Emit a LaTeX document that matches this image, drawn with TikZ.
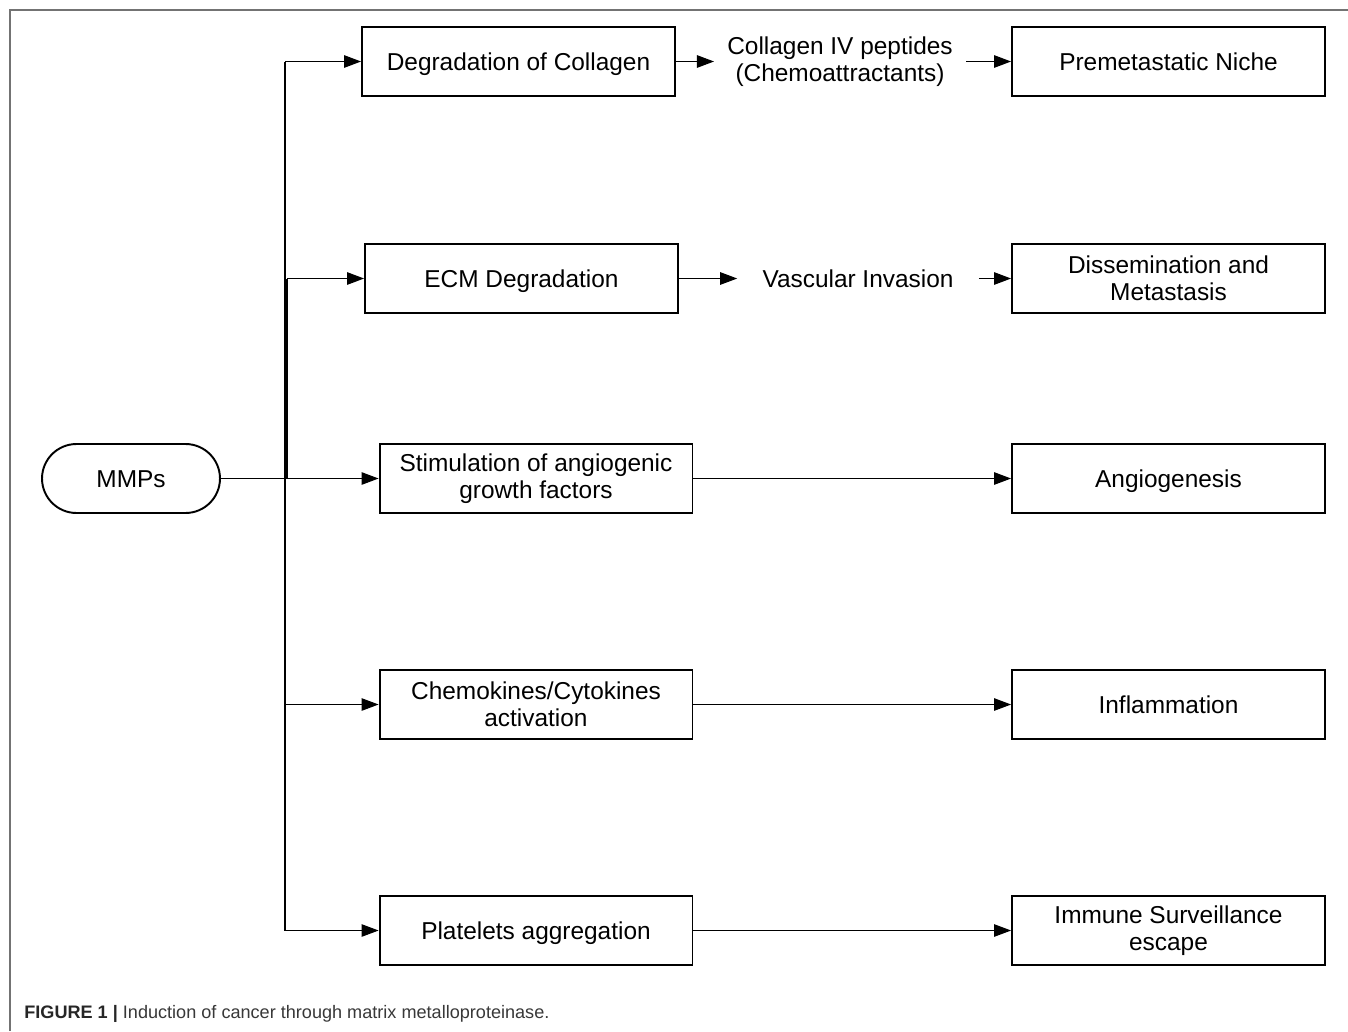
\documentclass[tikz,border=0pt]{standalone}
\usepackage{fontspec}
\setmainfont{Liberation Sans}
\usetikzlibrary{arrows.meta}
\begin{document}
\begin{tikzpicture}[x=0.02cm,y=-0.02cm,
  every node/.style={font=\fontsize{13.9}{15.6}\selectfont, align=center},
  box/.style={draw, line width=1.1pt, minimum width=6.26cm, minimum height=1.38cm, inner sep=0pt},
  pill/.style={draw, line width=1.1pt, minimum width=3.56cm, minimum height=1.38cm, rounded corners=0.69cm, inner sep=0pt},
  oneline/.style={text height=12.45pt, text depth=2.5pt},
  conn/.style={line width=0.6pt},
  arr/.style={line width=0.6pt, -{Triangle[length=0.34cm,width=0.25cm]}},
  frame/.style={draw=black!55, line width=0.8pt}]
\useasboundingbox (0,0) rectangle (1348,1031);
\draw[frame] (10,1031) -- (10,10) -- (1348,10);
% nodes
\node[pill, oneline] (m) at (131,478.5) {MMPs};
\node[box, oneline] (b1) at (518.5,61.5) {Degradation of Collagen};
\node[box, oneline] (b2) at (521.5,278.5) {ECM Degradation};
\node[box] (b3) at (536,478.5) {Stimulation of angiogenic\\growth factors};
\node[box] (b4) at (536,704.5) {Chemokines/Cytokines\\activation};
\node[box, oneline] (b5) at (536,930.5) {Platelets aggregation};
\node[box, oneline] (r1) at (1168.5,61.5) {Premetastatic Niche};
\node[box] (r2) at (1168.5,278.5) {Dissemination and\\Metastasis};
\node[box, oneline] (r3) at (1168.5,478.5) {Angiogenesis};
\node[box, oneline] (r4) at (1168.5,704.5) {Inflammation};
\node[box] (r5) at (1168.5,930.5) {Immune Surveillance\\escape};
\node[inner xsep=0.26cm, inner ysep=2pt] (c1) at (840,61.5) {Collagen IV peptides\\(Chemoattractants)};
\node[oneline, inner xsep=0.5cm, inner ysep=2pt] (v) at (858,278.5) {Vascular Invasion};
% trunk
\coordinate (j) at (285,478.5);
\coordinate (jt) at (285,61.5);
\coordinate (jb) at (285,930.5);
\coordinate (j2) at (287,278.5);
\coordinate (j3) at (287,478.5);
\draw[conn] (m.east) -- (j);
\draw[conn] (jt) -- (jb);
\draw[conn] (j2) -- (j3);
\draw[arr] (jt) -- (b1.west);
\draw[arr] (j2) -- (b2.west);
\draw[arr] (j) -- (b3.west);
\draw[arr] (b4.west -| j) -- (b4.west);
\draw[arr] (jb) -- (b5.west);
% right side
\draw[arr] (b1.east) -- (c1.west);
\draw[arr] (c1.east) -- (r1.west);
\draw[arr] (b2.east) -- (v.west);
\draw[arr] (v.east) -- (r2.west);
\draw[arr] (b3.east) -- (r3.west);
\draw[arr] (b4.east) -- (r4.west);
\draw[arr] (b5.east) -- (r5.west);
% caption
\node[anchor=base west, inner sep=0pt, font=\fontsize{10.3}{12}\selectfont] (cap) at (24,1018)
  {\textcolor{black!85}{\textbf{FIGURE 1 |}} \textcolor{black!78}{Induction of cancer through matrix metalloproteinase.}};
\end{tikzpicture}
\end{document}
